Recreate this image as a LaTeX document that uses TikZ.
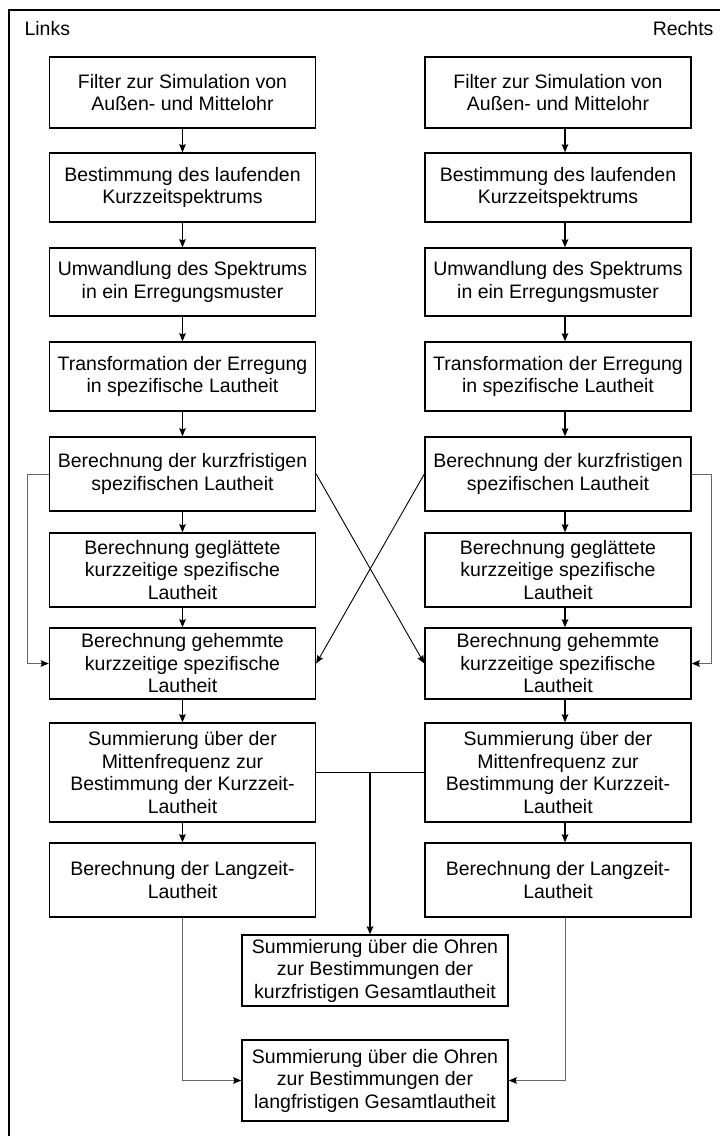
\documentclass[tikz,border=0pt]{standalone}
\usepackage{fontspec}
\setmainfont{Liberation Sans}
\usetikzlibrary{arrows.meta}

\tikzset{
  block/.style={draw, line width=1.4pt, minimum width=266pt, align=center, inner sep=2pt},
  flow/.style={line width=1.2pt, -{Stealth[length=8pt, width=6.5pt, inset=1pt]}},
  thinflow/.style={line width=0.9pt, -{Stealth[length=8pt, width=6.5pt, inset=1pt]}},
  side/.style={line width=1pt, draw=black!60, -{Stealth[length=8pt, width=6.5pt, inset=1pt, color=black]}},
}

\begin{document}
\begin{tikzpicture}[x=1pt, y=-1pt, font=\fontsize{19.5}{22.5}\selectfont]

        \useasboundingbox (0,0) rectangle (720,1136);
        \draw[line width=1.6pt] (9,1136) |- (720,10);

        \node[anchor=base west] (links) at (21,35) {Links};
        \node[anchor=base east] (rechts) at (717,35) {Rechts};

        % same processing chain for both ears
        \foreach \y/\h/\txt [count=\i] in {
            92.5/71/{Filter zur Simulation von\\Außen- und Mittelohr},
            187.5/69/{Bestimmung des laufenden\\Kurzzeitspektrums},
            282/68/{Umwandlung des Spektrums\\in ein Erregungsmuster},
            376.5/69/{Transformation der Erregung\\in spezifische Lautheit},
            474/74/{Berechnung der kurzfristigen\\spezifischen Lautheit},
            570/74/{Berechnung geglättete\\kurzzeitige spezifische\\Lautheit},
            663.5/71/{Berechnung gehemmte\\kurzzeitige spezifische\\Lautheit},
            772.5/99/{Summierung über der\\Mittenfrequenz zur\\Bestimmung der Kurzzeit-\\Lautheit},
            880/74/{Berechnung der Langzeit-\\Lautheit}}
        {
            \node[block, minimum height=\h pt] (l\i) at (182.5,\y) {\txt};
            \node[block, minimum height=\h pt] (r\i) at (558,\y) {\txt};
        }

        \foreach \i [count=\j from 2] in {1,...,8}
        {
            \draw[flow] (l\i) -- (l\j);
            \draw[flow] ([xshift=7pt]r\i.south) -- ([xshift=7pt]r\j.north);
        }

        % inhibition: own side and crossed over
        \draw[thinflow] (l5.east) -- (r7.west);
        \draw[thinflow] (r5.west) -- (l7.east);
        \draw[side] (l5.west) -- ++(-21,0) |- (l7.west);
        \draw[side] (r5.east) -- ++(20,0) |- (r7.east);

        % binaural summation
        \node[block, minimum height=71pt] (sumk) at (375,970.5)
            {Summierung über die Ohren\\zur Bestimmungen der\\kurzfristigen Gesamtlautheit};
        \node[block, minimum height=81pt] (suml) at (375,1080.5)
            {Summierung über die Ohren\\zur Bestimmungen der\\langfristigen Gesamtlautheit};

        \draw[line width=0.9pt] (l8.east) -- (r8.west);
        \coordinate (join) at (370,772.5);
        \draw[flow] (join) -- (join |- sumk.north);

        \draw[side] (l9.south) |- (suml.west);
        \draw[side] ([xshift=7pt]r9.south) |- (suml.east);

\end{tikzpicture}
\end{document}
